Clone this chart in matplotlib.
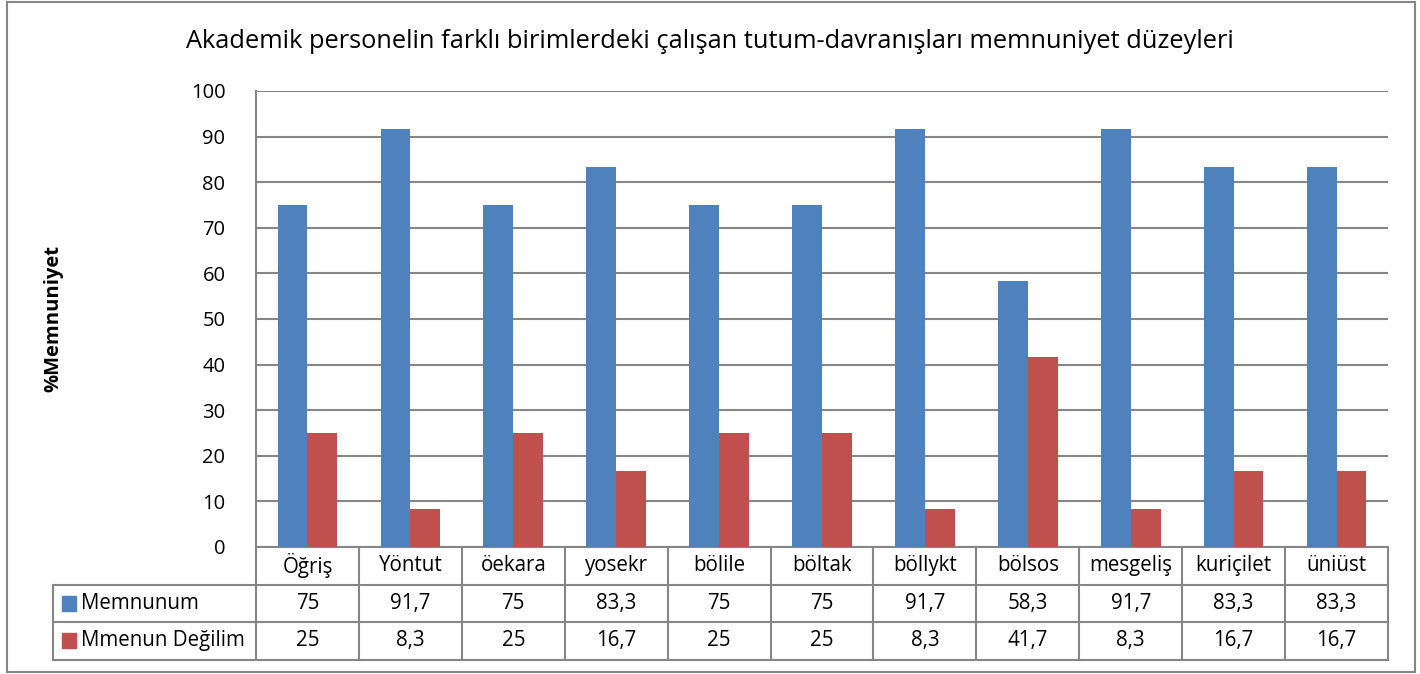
import numpy as np
import matplotlib
matplotlib.use("Agg")
from matplotlib import pyplot as plt
from matplotlib.patches import Rectangle
import matplotlib.transforms as mtransforms

plt.rcParams['font.family'] = ['Open Sans', 'DejaVu Sans']

kategoriler = ["Öğriş", "Yöntut", "öekara", "yosekr", "bölile", "böltak",
               "böllykt", "bölsos", "mesgeliş", "kuriçilet", "üniüst"]
memnunum = [75, 91.7, 75, 83.3, 75, 75, 91.7, 58.3, 91.7, 83.3, 83.3]
memnun_degilim = [25, 8.3, 25, 16.7, 25, 25, 8.3, 41.7, 8.3, 16.7, 16.7]
seriler = ["Memnunum", "Mmenun Değilim"]
renkler = ["#4F81BD", "#C0504D"]
baslik = "Akademik personelin farklı birimlerdeki çalışan tutum-davranışları memnuniyet düzeyleri"
eksen_etiketi = "%Memnuniyet"

W, H = 1420, 674
fig = plt.figure(figsize=(W / 100, H / 100), dpi=100)
gri = "#868686"

# dis cerceve
fig.patches.append(Rectangle((7 / W, 1 - 672 / H), (1415 - 7) / W, (672 - 2) / H,
                             transform=fig.transFigure, fill=False, ec=gri, lw=1.5))

ax = fig.add_axes([256 / W, 1 - 547 / H, (1388 - 256) / W, (547 - 91) / H])
x = np.arange(len(kategoriler))
gen = 0.29
ax.bar(x - gen / 2, memnunum, gen, color=renkler[0], zorder=3)
ax.bar(x + gen / 2, memnun_degilim, gen, color=renkler[1], zorder=3)

ax.set_xlim(-0.5, len(kategoriler) - 0.5)
ax.set_ylim(0, 100)
ax.set_yticks(range(0, 101, 10))
ax.yaxis.grid(True, color=gri, lw=1.5, zorder=0)
ax.set_xticks([])
for s in ["top", "right", "bottom"]:
    ax.spines[s].set_visible(False)
ax.spines["left"].set_color(gri)
ax.spines["left"].set_linewidth(1.5)
ax.tick_params(axis="y", length=0, pad=22, labelsize=14.5)
ax.set_ylabel(eksen_etiketi, fontsize=14.5, fontweight="bold", labelpad=0)
ax.yaxis.set_label_coords(-0.17, 0.5)

fig.text(0.5, 1 - 42 / H, baslik, ha="center", va="center", fontsize=18.3)

# veri tablosu
trans = mtransforms.blended_transform_factory(ax.transData, ax.transAxes)
sat = 37.5 / 456
sol = -0.5 - (256 - 53) / ((1388 - 256) / len(kategoriler))
sag = len(kategoriler) - 0.5
cizgi = dict(color=gri, lw=1.5, transform=trans, clip_on=False)

ax.plot([-0.5, sag], [0, 0], **cizgi)
for i in range(1, 4):
    ax.plot([sol if i > 1 else -0.5, sag], [-i * sat, -i * sat], **cizgi)
ax.plot([sol, -0.5], [-sat, -sat], **cizgi)
for k in np.arange(-0.5, sag + 0.01, 1.0):
    ax.plot([k, k], [0, -3 * sat], **cizgi)
ax.plot([sol, sol], [-sat, -3 * sat], **cizgi)

for i, k in enumerate(kategoriler):
    ax.text(i, -0.5 * sat, k, transform=trans, ha="center", va="center", fontsize=14.8)

for r, (ad, degerler) in enumerate(zip(seriler, [memnunum, memnun_degilim])):
    yc = -(r + 1.5) * sat
    ax.add_patch(Rectangle((sol + 0.09, yc - 0.016), 0.13, 0.032, transform=trans,
                           color=renkler[r], clip_on=False))
    ax.text(sol + 0.27, yc, ad, transform=trans, ha="left", va="center", fontsize=14.8)
    for i, v in enumerate(degerler):
        etiket = f"{v:g}".replace(".", ",")
        ax.text(i, yc, etiket, transform=trans, ha="center", va="center", fontsize=14.8)

fig.savefig("out.png", dpi=100)
